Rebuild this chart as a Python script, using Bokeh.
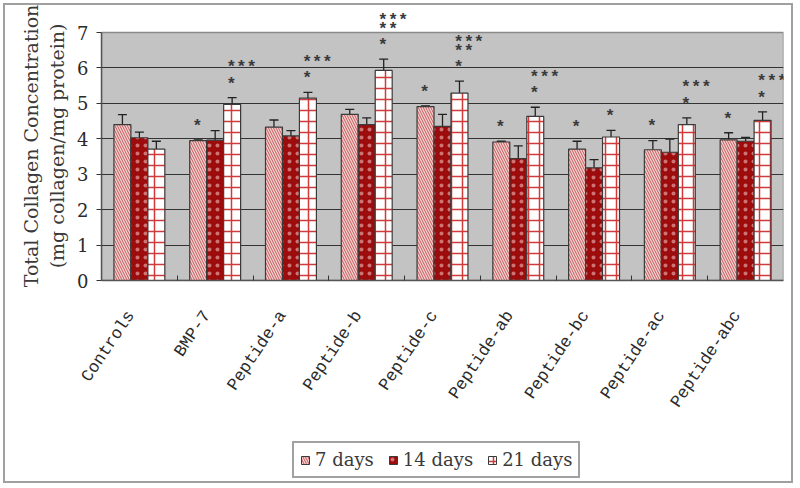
from bokeh.plotting import figure
from bokeh.layouts import column
from bokeh.models import (ColumnDataSource, Range1d, FixedTicker, Whisker, TeeHead,
                          LabelSet, Legend, LegendItem)
from bokeh.core.properties import value
from bokeh.transform import dodge
from bokeh.embed import file_html
from bokeh.resources import INLINE

# ---------------- data ----------------
categories = ["Controls", "BMP-7", "Peptide-a", "Peptide-b", "Peptide-c",
              "Peptide-ab", "Peptide-bc", "Peptide-ac", "Peptide-abc"]
series_names = ["7 days", "14 days", "21 days"]

days7 = [4.40, 3.95, 4.33, 4.69, 4.91, 3.91, 3.71, 3.69, 3.97]
days7_err = [0.28, 0.02, 0.20, 0.14, 0.02, 0.02, 0.22, 0.26, 0.20]
days14 = [4.03, 3.96, 4.08, 4.40, 4.35, 3.44, 3.18, 3.62, 3.93]
days14_err = [0.16, 0.27, 0.15, 0.19, 0.34, 0.36, 0.23, 0.37, 0.11]
days21 = [3.71, 4.97, 5.15, 5.93, 5.29, 4.63, 4.05, 4.40, 4.52]
days21_err = [0.22, 0.19, 0.16, 0.32, 0.34, 0.26, 0.19, 0.19, 0.24]

# significance marks: (category, series, stacked marks bottom -> top)
sig_category = ["BMP-7", "BMP-7", "Peptide-a", "Peptide-b", "Peptide-c", "Peptide-c",
                "Peptide-ab", "Peptide-ab", "Peptide-bc", "Peptide-bc",
                "Peptide-ac", "Peptide-ac", "Peptide-abc", "Peptide-abc"]
sig_series = ["7 days", "21 days", "21 days", "21 days", "7 days", "21 days",
              "7 days", "21 days", "7 days", "21 days",
              "7 days", "21 days", "7 days", "21 days"]
sig_marks = [["*"], ["*", "***"], ["*", "***"], ["*", "**", "***"], ["*"], ["*", "**", "***"],
             ["*"], ["*", "***"], ["*"], ["*"],
             ["*"], ["*", "***"], ["*"], ["*", "***"]]

y_ticks = [0, 1, 2, 3, 4, 5, 6, 7]
y_top = 7.593   # a little head-room above 7 for the stars

# ---------------- layout helpers ----------------
BAR_W = 0.224
LABEL_SHIFT = -0.11
offsets = {"7 days": -BAR_W, "14 days": 0.0, "21 days": BAR_W}
centers = [i + 0.5 for i in range(len(categories))]
vals = {"7 days": (days7, days7_err), "14 days": (days14, days14_err),
        "21 days": (days21, days21_err)}

styles = {
    "7 days": dict(fill_color="#f4d0d0", hatch_pattern="\\", hatch_color="#c25a5a",
                   hatch_scale=5, hatch_weight=1.0),
    "14 days": dict(fill_color="#9c0c0c", hatch_pattern=".", hatch_color="#f0b8b8",
                    hatch_scale=8, hatch_weight=1.0, hatch_alpha=0.6),
    "21 days": dict(fill_color="white", hatch_pattern="+", hatch_color="#d03a3a",
                    hatch_scale=11, hatch_weight=1.5),
}
cols = {"7 days": "d7", "14 days": "d14", "21 days": "d21"}

source = ColumnDataSource(dict(x=centers, d7=days7, d14=days14, d21=days21))

# ---------------- main chart ----------------
p = figure(width=786, height=436, output_backend="svg", toolbar_location=None,
           x_range=Range1d(0, len(categories)), y_range=Range1d(0, y_top),
           min_border_left=96, min_border_right=8, min_border_top=6,
           min_border_bottom=161)
p.background_fill_color = "white"
p.border_fill_color = "white"
p.outline_line_color = None

area = p.quad(left=[0], right=[len(categories)], bottom=[0], top=[y_ticks[-1]],
              fill_color="#c3c3c3", line_color="#8a8a8a", line_width=1.5)
area.level = "image"

for name in series_names:
    p.vbar(x=dodge("x", offsets[name]), top=cols[name], width=BAR_W, source=source,
           line_color="#3a3a3a", line_width=1.2, **styles[name])

# error bars (upper only)
for name in series_names:
    v, e = vals[name]
    wsrc = ColumnDataSource(dict(x=[c + offsets[name] for c in centers], lower=v,
                                 upper=[a + b for a, b in zip(v, e)]))
    p.add_layout(Whisker(source=wsrc, base="x", lower="lower", upper="upper",
                         dimension="height", line_color="#222222", line_width=1.3,
                         upper_head=TeeHead(size=9, line_color="#222222", line_width=1.3),
                         lower_head=None))

# significance stars
sx, sy, st = [], [], []
for cat, ser, marks in zip(sig_category, sig_series, sig_marks):
    i = categories.index(cat)
    v, e = vals[ser]
    y = v[i] + e[i] + 0.47
    for k, m in enumerate(marks):
        sx.append(centers[i] + offsets[ser])
        sy.append(y)
        st.append(m)
        if k + 1 < len(marks):
            y += 0.25 if (m == "**") else 0.46
sig_src = ColumnDataSource(dict(x=sx, y=sy, text=st))
p.add_layout(LabelSet(x="x", y="y", text="text", source=sig_src, text_align="left",
                      text_baseline="middle", x_offset=-6, y_offset=-3,
                      text_font=value("Liberation Mono"), text_font_size="17px",
                      text_font_style="bold", text_color="#3a3a3a"))

# axes
label_pos = [c + LABEL_SHIFT for c in centers]
p.xaxis.ticker = FixedTicker(ticks=label_pos, minor_ticks=list(range(1, len(categories))))
p.xaxis.major_label_overrides = {c: n for c, n in zip(label_pos, categories)}
p.xaxis.major_label_orientation = 0.98
p.xaxis.major_label_standoff = 26
p.xaxis.major_tick_line_color = None
p.xaxis.minor_tick_in = 5
p.xaxis.minor_tick_out = 0
p.xaxis.minor_tick_line_color = "#333333"
p.xaxis.axis_line_color = "#555555"
p.xaxis.axis_line_width = 1.5
p.xaxis.major_label_text_font = "Liberation Mono"
p.xaxis.major_label_text_font_size = "17px"
p.xaxis.major_label_text_color = "#2a2a2a"

p.yaxis.ticker = FixedTicker(ticks=y_ticks)
p.yaxis.bounds = (0, y_ticks[-1])
p.yaxis.major_tick_out = 5
p.yaxis.major_tick_in = 0
p.yaxis.major_tick_line_color = "#333333"
p.yaxis.axis_line_color = "#555555"
p.yaxis.axis_line_width = 1.5
p.yaxis.major_label_text_font = "DejaVu Serif"
p.yaxis.major_label_text_font_size = "18px"
p.yaxis.major_label_text_color = "#2a2a2a"
p.yaxis.major_label_standoff = 8
p.yaxis.axis_label = "Total Collagen Concentration\n(mg collagen/mg protein)"
p.yaxis.axis_label_text_font = "DejaVu Serif"
p.yaxis.axis_label_text_font_size = "19px"
p.yaxis.axis_label_text_font_style = "normal"
p.yaxis.axis_label_text_color = "#3a3a3a"
p.yaxis.axis_label_standoff = 6

p.xgrid.visible = False
p.ygrid.ticker = FixedTicker(ticks=y_ticks[1:-1])
p.ygrid.grid_line_color = "#333333"
p.ygrid.grid_line_width = 1.2

# ---------------- legend strip ----------------
q = figure(width=786, height=40, output_backend="svg", toolbar_location=None,
           x_axis_type=None, y_axis_type=None, x_range=Range1d(0, 1),
           y_range=Range1d(0, 1), min_border=0)
q.outline_line_color = None
q.background_fill_color = "white"
q.border_fill_color = "white"
swatch_src = ColumnDataSource(dict(x=[float("nan")], top=[float("nan")]))
legend_renderers = {}
for name in series_names:
    legend_renderers[name] = q.vbar(x="x", top="top", width=BAR_W, source=swatch_src,
                                    line_color="#3a3a3a", line_width=1.0, **styles[name])

legend = Legend(items=[LegendItem(label=n, renderers=[legend_renderers[n]])
                       for n in series_names],
                orientation="horizontal", location=(191, 3),
                label_text_font="DejaVu Serif", label_text_font_size="18px",
                label_text_color="#3a3a3a", glyph_width=10, glyph_height=10,
                border_line_color="#444444", border_line_width=2, padding=6,
                spacing=14, label_standoff=5, margin=0, background_fill_color="white",
                background_fill_alpha=1.0)
q.add_layout(legend)

layout = column(p, q, spacing=0)
layout.styles = {"border": "2px solid #a0a0a0", "margin": "3px"}

open("out.html", "w").write(file_html(layout, INLINE))
